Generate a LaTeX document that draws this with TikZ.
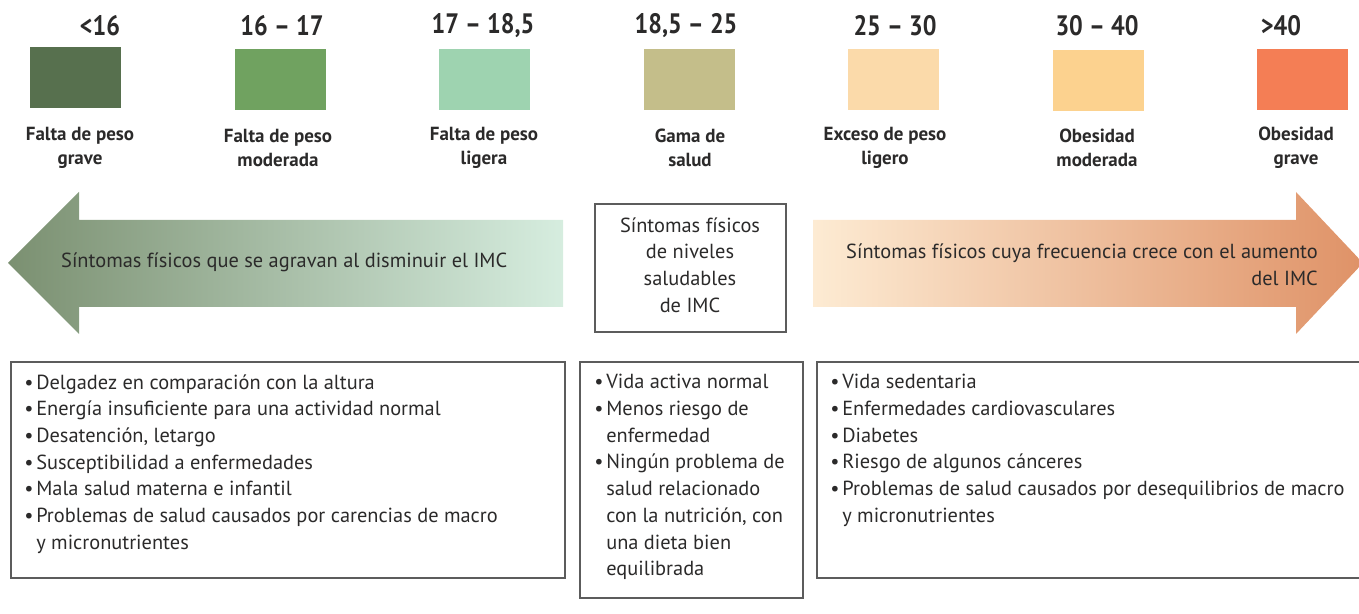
\documentclass[tikz,border=0pt]{standalone}
\usepackage{fontspec}
\setmainfont{PT Sans}
\newfontfamily\condfont[FakeStretch=0.86]{PT Sans}
\usetikzlibrary{positioning}

\definecolor{txtgray}{HTML}{2B2A2A}
\definecolor{boxgray}{HTML}{5C5C5C}
\definecolor{bmiA}{HTML}{57704E}
\definecolor{bmiB}{HTML}{70A260}
\definecolor{bmiC}{HTML}{9ED3B0}
\definecolor{bmiD}{HTML}{C4BE8A}
\definecolor{bmiE}{HTML}{FBDAAA}
\definecolor{bmiF}{HTML}{FCD28F}
\definecolor{bmiG}{HTML}{F47E55}
\definecolor{lowL}{HTML}{7B9071}
\definecolor{lowR}{HTML}{D6EDDF}
\definecolor{highL}{HTML}{FDEBD3}
\definecolor{highR}{HTML}{DF9267}

\newcommand{\bul}{\makebox[6.8pt][l]{\textbullet}}
\newcommand{\cont}{\hspace*{6.8pt}}

\tikzset{
  swatch/.style={minimum width=1.82cm,minimum height=1.22cm,inner sep=0pt},
  rangelabel/.style={font=\condfont\fontsize{16}{19}\selectfont\bfseries,text=txtgray},
  catlabel/.style={font=\fontsize{10.8}{13.6}\selectfont\bfseries,text=txtgray,align=center},
  bodytext/.style={font=\fontsize{11.6}{15.2}\selectfont,text=txtgray},
  listbox/.style={draw=boxgray,line width=0.7pt},
  listtext/.style={bodytext,align=left,inner sep=0pt,anchor=north west}
}

\begin{document}
\begin{tikzpicture}[x=0.02cm,y=-0.02cm]
  \useasboundingbox (0,0) rectangle (1359,614);

  \node[swatch,fill=bmiA] (sw1) at (75.5,77.5) {};
  \node[swatch,fill=bmiB] (sw2) at (280.5,79.5) {};
  \node[swatch,fill=bmiC] (sw3) at (484.5,79.5) {};
  \node[swatch,fill=bmiD] (sw4) at (689.5,79.5) {};
  \node[swatch,fill=bmiE] (sw5) at (893.5,79.5) {};
  \node[swatch,fill=bmiF] (sw6) at (1098.5,80.5) {};
  \node[swatch,fill=bmiG] (sw7) at (1302.5,79.5) {};

  \node[rangelabel] (r1) at (100,26) {<16};
  \node[rangelabel] (r2) at (282,26) {16 – 17};
  \node[rangelabel] (r3) at (483,26) {17 – 18,5};
  \node[rangelabel] (r4) at (686,26) {18,5 – 25};
  \node[rangelabel] (r5) at (895,26) {25 – 30};
  \node[rangelabel] (r6) at (1097,26) {30 – 40};
  \node[rangelabel] (r7) at (1281,26) {>40};

  \node[catlabel] (c1) at (80,148) {Falta de peso\\grave};
  \node[catlabel] (c2) at (278,148) {Falta de peso\\moderada};
  \node[catlabel] (c3) at (484,148) {Falta de peso\\ligera};
  \node[catlabel] (c4) at (690,148) {Gama de\\salud};
  \node[catlabel] (c5) at (885,148) {Exceso de peso\\ligero};
  \node[catlabel] (c6) at (1097,148) {Obesidad\\moderada};
  \node[catlabel] (c7) at (1296,148) {Obesidad\\grave};

  \shade[left color=lowL,right color=lowR]
    (8,263) -- (79,192) -- (79,220) -- (563,220) -- (563,307) -- (79,307) -- (79,334) -- cycle;
  \node[bodytext,anchor=west] (lowtxt) at (55,262) {Síntomas físicos que se agravan al disminuir el IMC};

  \shade[left color=highL,right color=highR]
    (813,220) -- (1296,220) -- (1296,192) -- (1363,263) -- (1296,334) -- (1296,307) -- (813,307) -- cycle;
  \node[bodytext,align=right,anchor=east] (hightxt) at (1324,265) {Síntomas físicos cuya frecuencia crece con el aumento\\del IMC};

  \node[listbox,minimum width=3.82cm,minimum height=2.56cm] (midtop) at (690.5,268) {};
  \node[bodytext,align=center] (midtxt) at (690,265) {Síntomas físicos\\de niveles\\saludables\\de IMC};

  \node[listbox,minimum width=11.08cm,minimum height=4.32cm] (lowbox) at (288,470) {};
  \node[listtext] (lowlist) at (24,374) {\bul Delgadez en comparación con la altura\\
    \bul Energía insuficiente para una actividad normal\\
    \bul Desatención, letargo\\
    \bul Susceptibilidad a enfermedades\\
    \bul Mala salud materna e infantil\\
    \bul Problemas de salud causados por carencias de macro\\
    \cont y micronutrientes};

  \node[listbox,minimum width=4.46cm,minimum height=4.72cm] (midbox) at (691.5,480) {};
  \node[listtext] (midlist) at (594,374) {\bul Vida activa normal\\
    \bul Menos riesgo de\\
    \cont enfermedad\\
    \bul Ningún problema de\\
    \cont salud relacionado\\
    \cont con la nutrición, con\\
    \cont una dieta bien\\
    \cont equilibrada};

  \node[listbox,minimum width=11.06cm,minimum height=4.32cm] (highbox) at (1093.5,470) {};
  \node[listtext] (highlist) at (830,374) {\bul Vida sedentaria\\
    \bul Enfermedades cardiovasculares\\
    \bul Diabetes\\
    \bul Riesgo de algunos cánceres\\
    \bul Problemas de salud causados por desequilibrios de macro\\
    \cont y micronutrientes};
\end{tikzpicture}
\end{document}
